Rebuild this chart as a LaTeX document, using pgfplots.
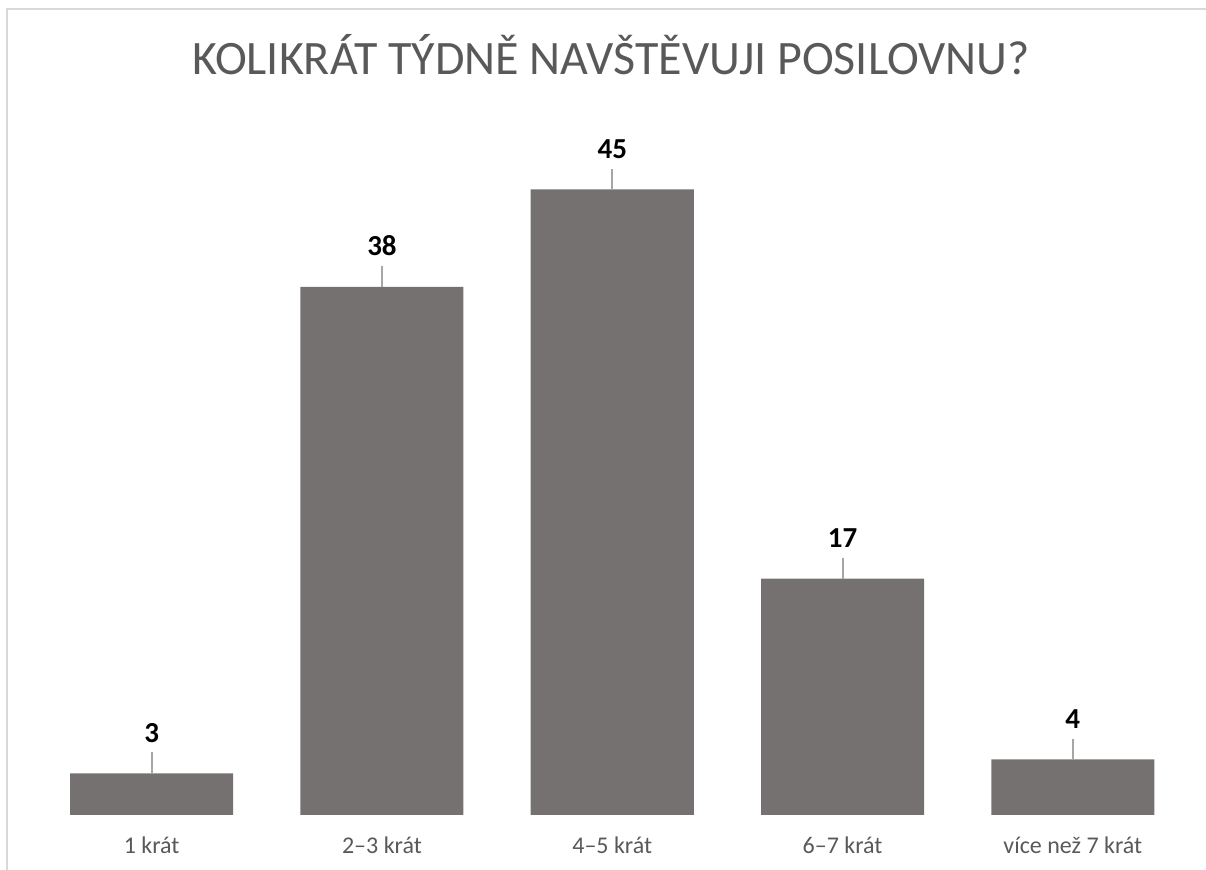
\documentclass[border=0pt]{standalone}
\usepackage{pgfplots}
\pgfplotsset{compat=1.18}
\usepackage{fontspec}
\setmainfont{Carlito}
\definecolor{barc}{HTML}{767171}
\definecolor{txt}{HTML}{595959}
\definecolor{lead}{HTML}{A6A6A6}
\definecolor{brd}{HTML}{D9D9D9}
\begin{document}
\begin{tikzpicture}[x=1pt,y=1pt]
\path[use as bounding box] (0,0) rectangle (603,435);
\draw[brd, line width=0.8pt] (3.5,0) -- (3.5,430.5) -- (603,430.5);
\node[anchor=base, text=txt, font=\fontsize{24}{28}\selectfont] at (305.5,397.5) {KOLIKRÁT TÝDNĚ NAVŠTĚVUJI POSILOVNU?};
\begin{axis}[
  at={(18.25pt,27.5pt)}, anchor=south west,
  scale only axis, width=575.75pt, height=347.5pt,
  xmin=-0.5, xmax=4.5, ymin=0, ymax=50,
  axis line style={draw=none},
  ytick=\empty,
  xtick={0,1,2,3,4},
  xticklabels={1 krát, 2–3 krát, 4–5 krát, 6–7 krát, více než 7 krát},
  major tick length=0pt,
  xticklabel style={anchor=base, yshift=-19.5pt, text=txt, font=\fontsize{12}{14}\selectfont},
  clip=false,
]
\addplot[ybar, bar width=0.708, fill=barc, draw=none,
  error bars/.cd, y dir=plus, y fixed=1.5, error mark=none,
  error bar style={lead, line width=1pt},
  ] coordinates {(0,3) (1,38) (2,45) (3,17) (4,4)};
\addplot[only marks, mark=none,
  nodes near coords={\textbf{\pgfmathprintnumber[assume math mode=true]{\pgfplotspointmeta}}},
  every node near coord/.append style={anchor=base, yshift=15.5pt, text=black, font=\fontsize{14.5}{17}\selectfont},
  ] coordinates {(0,3) (1,38) (2,45) (3,17) (4,4)};
\end{axis}
\end{tikzpicture}
\end{document}
